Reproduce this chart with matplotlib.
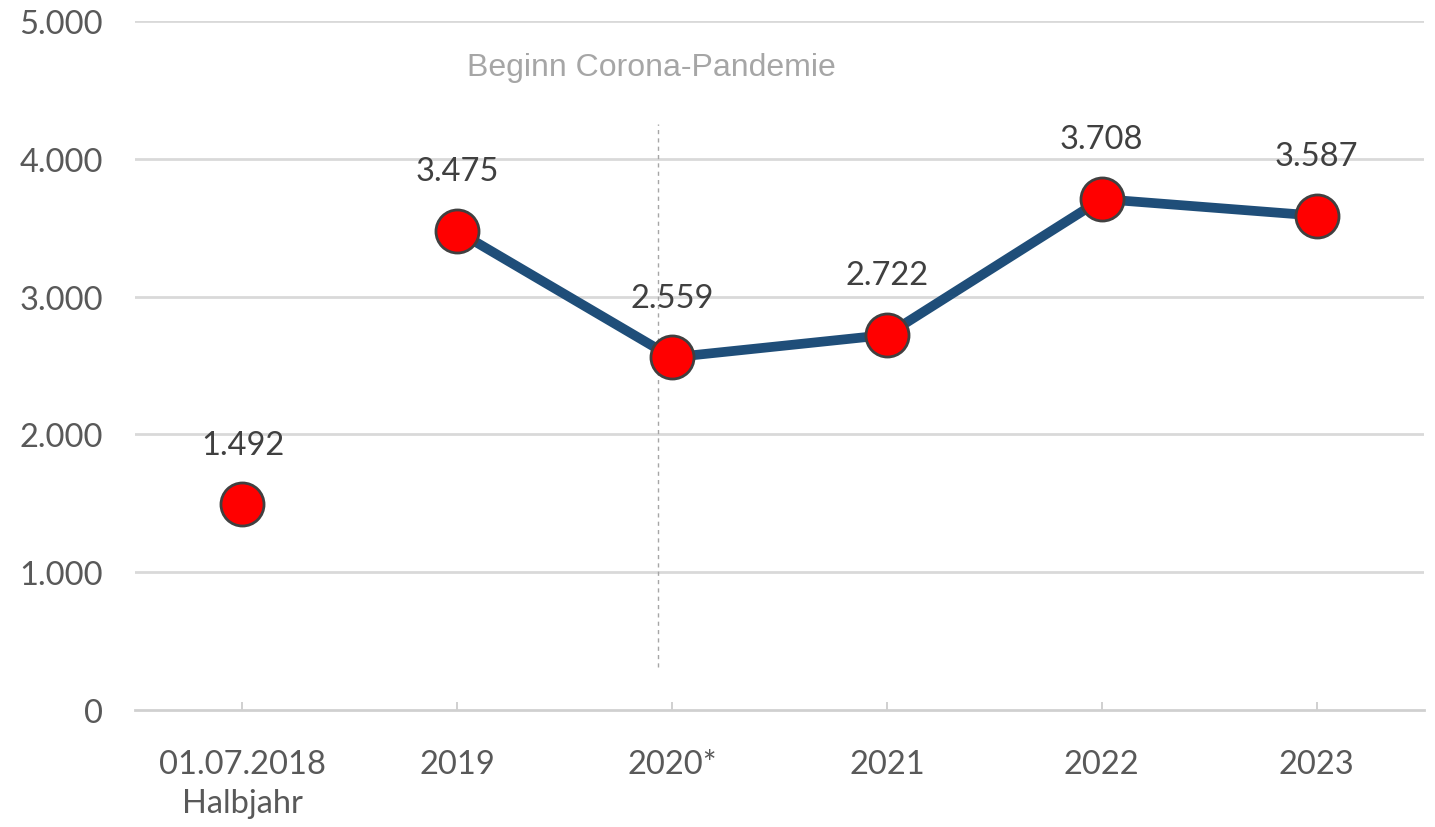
import matplotlib
matplotlib.use("Agg")
import matplotlib.pyplot as plt
from matplotlib.ticker import FuncFormatter

categories = ["01.07.2018\nHalbjahr", "2019", "2020*", "2021", "2022", "2023"]
values = [1492, 3475, 2559, 2722, 3708, 3587]
connected_from = 1  # first point is standalone
yticks = [0, 1000, 2000, 3000, 4000, 5000]
annotation_text = "Beginn Corona-Pandemie"
pandemic_x = 1.935

def de(v):
    return f"{int(v):,}".replace(",", ".")

fig = plt.figure(figsize=(14.35, 8.28), dpi=100)
ax = fig.add_axes([135/1435, 117/828, (1424-135)/1435, (711-22)/828])
x = list(range(len(categories)))

ax.set_xlim(-0.5, len(categories) - 0.5)
ax.set_ylim(0, 5000)
ax.set_yticks(yticks)
ax.yaxis.set_major_formatter(FuncFormatter(lambda v, p: de(v)))
for y in yticks[1:]:
    ax.axhline(y, color="#d9d9d9", lw=2, zorder=0)

for s in ["top", "right", "left"]:
    ax.spines[s].set_visible(False)
ax.spines["bottom"].set_color("#d0d0d0")
ax.spines["bottom"].set_linewidth(2)

ax.set_xticks(x)
ax.set_xticklabels(categories)
ax.tick_params(axis="x", direction="in", length=6, color="#c8c8c8", width=1.2,
               pad=28, labelsize=23.5, labelcolor="#595959")
ax.tick_params(axis="y", length=0, pad=23, labelsize=23.5, labelcolor="#595959")
for lab in ax.get_xticklabels() + ax.get_yticklabels():
    lab.set_fontfamily("Lato")
for lab in ax.get_xticklabels():
    lab.set_linespacing(1.4)

ax.axvline(pandemic_x, ymin=0.062, ymax=0.85, color="#a6a6a6", lw=1, ls=(0, (3, 3)), zorder=1)
ax.text(1.905, 4665, annotation_text, ha="center", va="center", fontsize=23,
        color="#a6a6a6", family="Liberation Sans")

ax.plot(x[connected_from:], values[connected_from:], color="#1f4e79", lw=7,
        solid_capstyle="round", zorder=2)
ax.plot(x, values, ls="none", marker="o", markersize=31, markerfacecolor="#ff0000",
        markeredgecolor="#404040", markeredgewidth=2, zorder=3)

for xi, v in zip(x, values):
    ax.annotate(de(v), (xi, v), xytext=(0, 43), textcoords="offset points",
                ha="center", va="center", fontsize=23.5, color="#404040", family="Lato")

fig.savefig("out.png", dpi=100)
